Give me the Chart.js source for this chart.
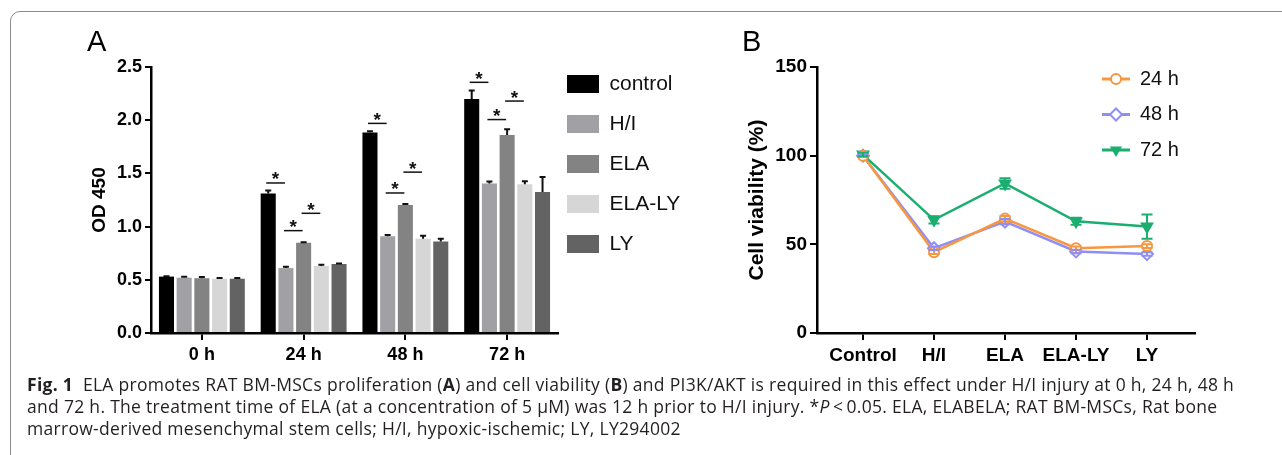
<!DOCTYPE html>
<html>
<head>
<meta charset="utf-8">
<script src="https://cdn.jsdelivr.net/npm/chart.js@4.4.1/dist/chart.umd.min.js"></script>
<style>
html,body{margin:0;padding:0;background:#fff;width:1282px;height:455px;overflow:hidden;}
#frame{position:absolute;left:10px;top:11px;width:1320px;height:470px;border:1.5px solid #8c8c8c;border-radius:10px;box-sizing:border-box;}
#cA{position:absolute;left:0;top:0;}
#cB{position:absolute;left:700px;top:0;}
.panel{position:absolute;font-family:"Liberation Sans",Arial,sans-serif;font-size:29px;color:#000;line-height:29px;}
#caption{position:absolute;left:27px;top:373px;font-family:"Open Sans",sans-serif;font-size:17.5px;letter-spacing:0.3px;line-height:22px;color:#231f20;white-space:nowrap;}
</style>
</head>
<body>
<div id="frame"></div>
<canvas id="cA" width="700" height="380"></canvas>
<canvas id="cB" width="582" height="380"></canvas>
<div class="panel" style="left:87px;top:27px;">A</div>
<div class="panel" style="left:742px;top:27px;">B</div>
<div id="caption"><b>Fig. 1</b>&nbsp; ELA promotes RAT BM-MSCs proliferation (<b>A</b>) and cell viability (<b>B</b>) and PI3K/AKT is required in this effect under H/I injury at 0 h, 24 h, 48 h<br>and 72 h. The treatment time of ELA (at a concentration of 5 μM) was 12 h prior to H/I injury. *<i>P</i>&thinsp;&lt;&thinsp;0.05. ELA, ELABELA; RAT BM-MSCs, Rat bone<br>marrow-derived mesenchymal stem cells; H/I, hypoxic-ischemic; LY, LY294002</div>
<script>
// ---------- Panel A data ----------
const groupLabels = ['0 h', '24 h', '48 h', '72 h'];
const treatments = ['control', 'H/I', 'ELA', 'ELA-LY', 'LY'];
const odControl = [0.53, 1.31, 1.885, 2.20];
const odHI      = [0.52, 0.61, 0.91, 1.405];
const odELA     = [0.515, 0.848, 1.203, 1.86];
const odELALY   = [0.51, 0.63, 0.885, 1.397];
const odLY      = [0.51, 0.648, 0.86, 1.325];
const errControl = [0.004, 0.03, 0.01, 0.08];
const errHI      = [0.008, 0.012, 0.01, 0.02];
const errELA     = [0.012, 0.006, 0.01, 0.055];
const errELALY   = [0.006, 0.012, 0.03, 0.03];
const errLY      = [0.006, 0.005, 0.025, 0.14];
const odTicks = ['0.0', '0.5', '1.0', '1.5', '2.0', '2.5'];
// significance brackets: group index, first bar, second bar, bracket level (OD units)
const sigGroup = [1, 1, 1, 2, 2, 2, 3, 3, 3];
const sigFrom  = [0, 1, 2, 0, 1, 2, 0, 1, 2];
const sigTo    = [1, 2, 3, 1, 2, 3, 1, 2, 3];
const sigLevel = [1.41, 0.962, 1.125, 1.97, 1.316, 1.512, 2.356, 2.006, 2.18];

// ---------- Panel B data ----------
const viabilityCats = ['Control', 'H/I', 'ELA', 'ELA-LY', 'LY'];
const timeLabels = ['24 h', '48 h', '72 h'];
const viab24 = [100, 45.6, 64.5, 47.8, 49.0];
const viab48 = [100, 47.8, 62.8, 46.0, 44.5];
const viab72 = [100.6, 63.8, 84.3, 63.0, 60.0];
const err24 = [0.5, 1.0, 1.5, 1.0, 1.0];
const err48 = [0.5, 1.0, 1.5, 1.0, 1.0];
const err72 = [1.0, 2.0, 3.0, 2.0, 6.8];
const viabTicks = [0, 50, 100, 150];

// ---------- styles ----------
const FAM = '"Liberation Sans", Arial, sans-serif';
const barColors = ['#000000', '#a0a0a5', '#838383', '#d6d6d6', '#636363'];
const lineColors = ['#f7973f', '#8f8ff3', '#1aae70'];
const markerStyles = ['circle', 'rectRot', 'triangle'];

function drawMarker(ctx, style, x, y, color) {
  ctx.save();
  ctx.lineWidth = 2;
  ctx.strokeStyle = color;
  ctx.beginPath();
  if (style === 'circle') {
    ctx.fillStyle = '#fff';
    ctx.arc(x, y, 5, 0, Math.PI * 2);
    ctx.fill(); ctx.stroke();
  } else if (style === 'rectRot') {
    ctx.fillStyle = '#fff';
    const r = 6;
    ctx.moveTo(x, y - r); ctx.lineTo(x + r, y); ctx.lineTo(x, y + r); ctx.lineTo(x - r, y); ctx.closePath();
    ctx.fill(); ctx.stroke();
  } else {
    ctx.fillStyle = color;
    const r = 7;
    ctx.moveTo(x - r * 0.87, y - r * 0.5); ctx.lineTo(x + r * 0.87, y - r * 0.5); ctx.lineTo(x, y + r); ctx.closePath();
    ctx.fill();
  }
  ctx.restore();
}

const legendPlace = {
  id: 'legendPlace',
  afterLayout(chart, args, opts) {
    const lg = chart.legend;
    if (!lg) return;
    const w = lg.width, h = lg.height;
    lg.left = opts.left; lg.top = opts.top;
    lg.right = opts.left + w; lg.bottom = opts.top + h;
  },
  afterDraw(chart, args, opts) {
    if (!opts.markers) return;
    const lg = chart.legend;
    const bw = chart.options.plugins.legend.labels.boxWidth;
    lg.legendHitBoxes.forEach((hb, i) => {
      const ds = chart.data.datasets[i];
      drawMarker(chart.ctx, ds.pointStyle, hb.left + bw / 2, hb.top + hb.height / 2, ds.borderColor);
    });
  }
};

const errorBars = {
  id: 'errorBars',
  afterDatasetsDraw(chart) {
    const ctx = chart.ctx;
    chart.data.datasets.forEach((ds, di) => {
      if (!ds.errors) return;
      const meta = chart.getDatasetMeta(di);
      const ys = chart.scales[meta.yAxisID];
      ctx.save();
      ctx.strokeStyle = ds.errorColor;
      ctx.lineWidth = 2;
      meta.data.forEach((el, i) => {
        const raw = ds.data[i];
        const v = typeof raw === 'object' ? raw.y : raw;
        const e = ds.errors[i];
        const yTop = ys.getPixelForValue(v + e);
        const yBot = ds.errorBoth ? ys.getPixelForValue(v - e) : el.y;
        const cw = ds.capWidth;
        ctx.beginPath();
        ctx.moveTo(el.x, yBot); ctx.lineTo(el.x, yTop);
        ctx.moveTo(el.x - cw / 2, yTop); ctx.lineTo(el.x + cw / 2, yTop);
        if (ds.errorBoth) { ctx.moveTo(el.x - cw / 2, yBot); ctx.lineTo(el.x + cw / 2, yBot); }
        ctx.stroke();
      });
      ctx.restore();
    });
  }
};

const sigPlugin = {
  id: 'sigMarks',
  afterDatasetsDraw(chart) {
    const ctx = chart.ctx;
    const ys = chart.scales.y;
    ctx.save();
    ctx.strokeStyle = '#111';
    ctx.fillStyle = '#111';
    ctx.lineWidth = 1.5;
    ctx.font = 'bold 19px ' + FAM;
    ctx.textAlign = 'center';
    ctx.textBaseline = 'alphabetic';
    const m = ctx.measureText('*');
    const glyphMid = (m.actualBoundingBoxAscent - m.actualBoundingBoxDescent) / 2;
    sigLevel.forEach((lvl, k) => {
      const a = chart.getDatasetMeta(sigFrom[k]).data[sigGroup[k]];
      const b = chart.getDatasetMeta(sigTo[k]).data[sigGroup[k]];
      const y = ys.getPixelForValue(lvl);
      const x1 = a.x - 2, x2 = b.x - 1;
      ctx.beginPath();
      ctx.moveTo(x1, y); ctx.lineTo(x2, y);
      ctx.stroke();
      ctx.fillText('*', (x1 + x2) / 2, y - 7 + glyphMid);
    });
    ctx.restore();
  }
};

// ---------- Chart A ----------
const odSeries = [odControl, odHI, odELA, odELALY, odLY];
const odErrors = [errControl, errHI, errELA, errELALY, errLY];

new Chart(document.getElementById('cA'), {
  type: 'bar',
  data: {
    labels: groupLabels,
    datasets: treatments.map((t, i) => ({
      label: t,
      data: odSeries[i],
      errors: odErrors[i],
      errorColor: '#111',
      capWidth: 6,
      backgroundColor: barColors[i],
      borderWidth: 0,
      categoryPercentage: 0.87,
      barPercentage: 0.85
    }))
  },
  options: {
    responsive: false, animation: false, devicePixelRatio: 1,
    layout: { padding: { left: 80, top: 67, right: 142, bottom: 0 } },
    plugins: {
      legend: {
        position: 'chartArea', align: 'start',
        labels: { boxWidth: 32, boxHeight: 18, padding: 19, color: '#111', font: { family: FAM, size: 21, lineHeight: 1 } }
      },
      legendPlace: { left: 548, top: 54.5 },
      tooltip: { enabled: false }
    },
    scales: {
      x: {
        grid: { offset: false, drawOnChartArea: false, drawTicks: true, tickLength: 7, color: '#000', lineWidth: 2 },
        border: { color: '#000', width: 2.5 },
        ticks: { font: { family: FAM, size: 18, weight: 'bold' }, color: '#000', padding: 4 },
        afterFit: s => { s.height = 47; }
      },
      y: {
        min: 0, max: 2.5,
        afterBuildTicks: s => { s.ticks = odTicks.map(t => ({ value: parseFloat(t) })); },
        ticks: { callback: (v, i) => odTicks[i], font: { family: FAM, size: 18, weight: 'bold' }, color: '#000', padding: 3 },
        grid: { drawOnChartArea: false, drawTicks: true, tickLength: 6, color: '#000', lineWidth: 2 },
        border: { color: '#000', width: 2.5 },
        title: { display: true, text: 'OD 450', font: { family: FAM, size: 19, weight: 'bold' }, color: '#000', padding: { top: 8, bottom: 0 } },
        afterFit: s => { s.width = 71; }
      }
    }
  },
  plugins: [legendPlace, errorBars, sigPlugin]
});

// ---------- Chart B ----------
const viabSeries = [viab24, viab48, viab72];
const viabErrors = [err24, err48, err72];

new Chart(document.getElementById('cB'), {
  type: 'line',
  data: {
    datasets: timeLabels.map((t, i) => ({
      label: t,
      data: viabSeries[i].map((v, j) => ({ x: j, y: v })),
      errors: viabErrors[i],
      errorBoth: true,
      errorColor: lineColors[i],
      capWidth: 11,
      borderColor: lineColors[i],
      backgroundColor: i === 2 ? lineColors[i] : '#ffffff',
      borderWidth: 2.5,
      pointStyle: markerStyles[i],
      pointRotation: i === 2 ? 180 : 0,
      pointRadius: i === 0 ? 5 : 6,
      pointBorderWidth: 2,
      tension: 0
    }))
  },
  options: {
    responsive: false, animation: false, devicePixelRatio: 1,
    layout: { padding: { left: 40, top: 67, right: 87, bottom: 0 } },
    plugins: {
      legend: {
        position: 'chartArea', align: 'start',
        labels: {
          boxWidth: 28, boxHeight: 3, padding: 15.5, color: '#111',
          font: { family: FAM, size: 20, lineHeight: 1 },
          generateLabels: chart => chart.data.datasets.map((ds, i) => ({
            text: ds.label, fillStyle: ds.borderColor, strokeStyle: ds.borderColor, lineWidth: 0,
            hidden: false, datasetIndex: i, fontColor: '#111'
          }))
        }
      },
      legendPlace: { left: 386.5, top: 53.5, markers: true },
      tooltip: { enabled: false }
    },
    scales: {
      x: {
        type: 'linear', min: -0.648, max: 4.676,
        afterBuildTicks: s => { s.ticks = viabilityCats.map((c, i) => ({ value: i })); },
        ticks: { callback: (v) => viabilityCats[v], font: { family: FAM, size: 19, weight: 'bold' }, color: '#000', padding: 4, maxRotation: 0, autoSkip: false },
        grid: { drawOnChartArea: false, drawTicks: true, tickLength: 7, color: '#000', lineWidth: 2 },
        border: { color: '#000', width: 2.5 },
        afterFit: s => { s.height = 47; }
      },
      y: {
        min: 0, max: 150,
        afterBuildTicks: s => { s.ticks = viabTicks.map(v => ({ value: v })); },
        ticks: { font: { family: FAM, size: 19, weight: 'bold' }, color: '#000', padding: 3 },
        grid: { drawOnChartArea: false, drawTicks: true, tickLength: 7, color: '#000', lineWidth: 2 },
        border: { color: '#000', width: 2.5 },
        title: { display: true, text: 'Cell viability (%)', font: { family: FAM, size: 21, weight: 'bold' }, color: '#000', padding: { top: 5, bottom: 0 } },
        afterFit: s => { s.width = 77; }
      }
    }
  },
  plugins: [legendPlace, errorBars]
});
</script>
</body>
</html>
